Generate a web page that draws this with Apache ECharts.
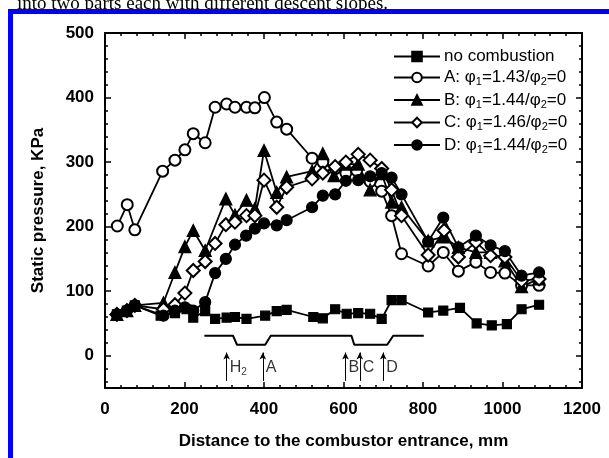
<!DOCTYPE html>
<html>
<head>
<meta charset="utf-8">
<script src="https://cdn.jsdelivr.net/npm/echarts@6/dist/echarts.min.js"></script>
<style>
  html, body { margin: 0; padding: 0; background: #fff; }
  #main { width: 609px; height: 458px; }
</style>
</head>
<body>
<div id="main"></div>
<script>
// distance to combustor entrance (mm) and static pressure (KPa)
var noCombX = [30,55,75,140,176,205,222,252,277,306,327,356,403,432,457,524,548,579,608,637,667,696,721,746,813,851,893,935,973,1011,1048,1092];
var noCombY = [64,70,78,62,66,72,59,69,57,59,60,57,62,69,71,60,58,72,65,66,65,57,86,86,67,70,74,50,47,49,72,79];

var aX = [31,56,75,145,176,201,222,252,277,306,327,356,377,401,432,457,521,548,579,606,633,667,696,721,746,813,851,889,933,970,1006,1048,1092];
var aY = [201,234,195,286,303,319,344,330,385,390,385,385,384,400,362,351,306,300,290,283,287,270,255,217,158,139,160,131,145,129,128,109,109];

var bX = [30,55,75,147,176,201,222,252,304,327,356,377,400,432,457,521,548,576,606,637,667,696,721,746,813,851,889,933,970,1006,1048,1092];
var bY = [64,70,78,82,129,169,194,163,243,218,241,228,318,253,277,286,313,279,297,297,257,282,238,230,178,184,168,160,160,147,107,119];

var cX = [30,55,75,147,176,201,222,252,277,304,327,356,377,400,432,457,521,548,579,606,637,667,696,721,746,813,853,889,933,970,1006,1048,1092];
var cY = [64,70,78,72,79,97,132,146,174,203,207,217,217,272,230,261,274,283,293,300,312,303,290,257,217,156,194,153,176,155,153,116,119];

var dX = [30,55,75,147,176,201,222,252,277,304,327,355,377,400,432,457,521,548,579,606,637,667,696,721,746,813,851,889,933,970,1006,1048,1092];
var dY = [64,70,78,62,70,75,70,83,128,150,172,186,197,205,202,210,230,248,250,271,272,278,283,276,250,177,214,168,186,171,162,124,129];

// combustor outline sketch and injection positions
var ductX = [250,322,332,403,417,620,627,710,725,802];
var ductY = [31,31,17,17,31,31,17,17,31,31];
var arrowX = [306,397,605,641,700];
var arrowText = ['H{sub|2}','A','B','C','D'];

var legendText = {
  'no combustion': 'no combustion',
  'A': 'A: φ{sub|1}=1.43/φ{sub|2}=0',
  'B': 'B: φ{sub|1}=1.44/φ{sub|2}=0',
  'C': 'C: φ{sub|1}=1.46/φ{sub|2}=0',
  'D': 'D: φ{sub|1}=1.44/φ{sub|2}=0'
};

function zip(xs, ys) {
  var res = [];
  for (var i = 0; i < xs.length; i++) res.push([xs[i], ys[i]]);
  return res;
}

var font = '"Liberation Sans", Arial, sans-serif';

function frameAxis(pos, isX) {
  var ax = {
    type: 'value',
    position: pos,
    min: isX ? 0 : -50,
    max: isX ? 1200 : 500,
    axisLine: { show: true, onZero: false, lineStyle: { color: '#000', width: 2 } },
    axisTick: { show: true, inside: true, length: 6, lineStyle: { color: '#000', width: 1.5 } },
    minorTick: { show: true, splitNumber: 5, length: 3, lineStyle: { color: '#000', width: 1.5 } },
    splitLine: { show: false },
    axisLabel: { show: false }
  };
  if (isX) ax.interval = 200;
  return ax;
}

var xBottom = frameAxis('bottom', true);
xBottom.axisLabel = {
  show: true, color: '#000', fontSize: 17, fontWeight: 'bold', fontFamily: font, margin: 13,
  formatter: function (v) { return String(v); }
};
xBottom.name = 'Distance to the combustor entrance, mm';
xBottom.nameLocation = 'middle';
xBottom.nameGap = 45;
xBottom.nameTextStyle = { color: '#000', fontSize: 17, fontWeight: 'bold', fontFamily: font };

var yLeft = frameAxis('left', false);
yLeft.axisLabel = {
  show: true, color: '#000', fontSize: 17, fontWeight: 'bold', fontFamily: font, margin: 11,
  formatter: function (v) { return v < 0 ? '' : String(v); }
};
yLeft.name = 'Static pressure, KPa';
yLeft.nameLocation = 'middle';
yLeft.nameGap = 58;
yLeft.nameTextStyle = { color: '#000', fontSize: 17, fontWeight: 'bold', fontFamily: font };

function dataSeries(name, xs, ys, symbol, size) {
  return {
    name: name,
    type: 'line',
    data: zip(xs, ys),
    symbol: symbol,
    symbolSize: size,
    showAllSymbol: true,
    lineStyle: { color: '#000', width: 1.8 },
    itemStyle: { color: '#000', borderColor: '#000', borderWidth: 1.2 },
    emphasis: { disabled: true },
    z: 3
  };
}

var option = {
  backgroundColor: '#fff',
  animation: false,
  grid: { left: 105, right: 27, top: 33, bottom: 70 },
  xAxis: [xBottom, frameAxis('top', true)],
  yAxis: [yLeft, frameAxis('right', false)],
  legend: {
    orient: 'vertical',
    left: 388,
    top: 43,
    itemWidth: 46,
    itemHeight: 12,
    itemGap: 4,
    data: ['no combustion', 'A', 'B', 'C', 'D'],
    formatter: function (name) { return legendText[name]; },
    textStyle: {
      color: '#000', fontSize: 17, fontFamily: font, padding: [0, 0, 0, -1],
      rich: { sub: { fontSize: 11, fontFamily: font, color: '#000', padding: [9, 0, 0, 0] } }
    }
  },
  graphic: [
    { type: 'text', left: 17, top: -5, style: { text: 'into two parts each with different descent slopes.', fontSize: 19, fontFamily: '"Liberation Serif", "Times New Roman", serif', fill: '#000' }, z: 1 },
    { type: 'rect', shape: { x: 8, y: 9, width: 601, height: 5 }, style: { fill: '#0000ff' }, z: 10 },
    { type: 'rect', shape: { x: 8, y: 9, width: 5, height: 449 }, style: { fill: '#0000ff' }, z: 10 }
  ],
  series: [
    dataSeries('no combustion', noCombX, noCombY, 'rect', 9),
    dataSeries('A', aX, aY, 'emptyCircle', 11),
    dataSeries('B', bX, bY, 'triangle', 12),
    dataSeries('C', cX, cY, 'emptyDiamond', 13),
    dataSeries('D', dX, dY, 'circle', 11),
    {
      name: 'duct',
      type: 'line',
      data: zip(ductX, ductY),
      symbol: 'none',
      lineStyle: { color: '#000', width: 2 },
      silent: true,
      markLine: {
        silent: true,
        symbol: ['none', 'arrow'],
        symbolSize: [5, 7],
        label: { show: false },
        lineStyle: { color: '#000', width: 1, type: 'solid' },
        data: arrowX.map(function (x) { return [{ coord: [x, -39] }, { coord: [x, 5] }]; })
      }
    },
    {
      name: 'marks',
      type: 'scatter',
      symbolSize: 0,
      silent: true,
      data: arrowX.map(function (x, i) { return { value: [x, -19], label: { formatter: arrowText[i] } }; }),
      label: {
        show: true, position: 'right', distance: 3, color: '#000', fontSize: 16, fontFamily: font,
        rich: { sub: { fontSize: 10, fontFamily: font, color: '#000', padding: [8, 0, 0, 0] } }
      }
    }
  ]
};

var chart = echarts.init(document.getElementById('main'));
chart.setOption(option);
</script>
</body>
</html>
